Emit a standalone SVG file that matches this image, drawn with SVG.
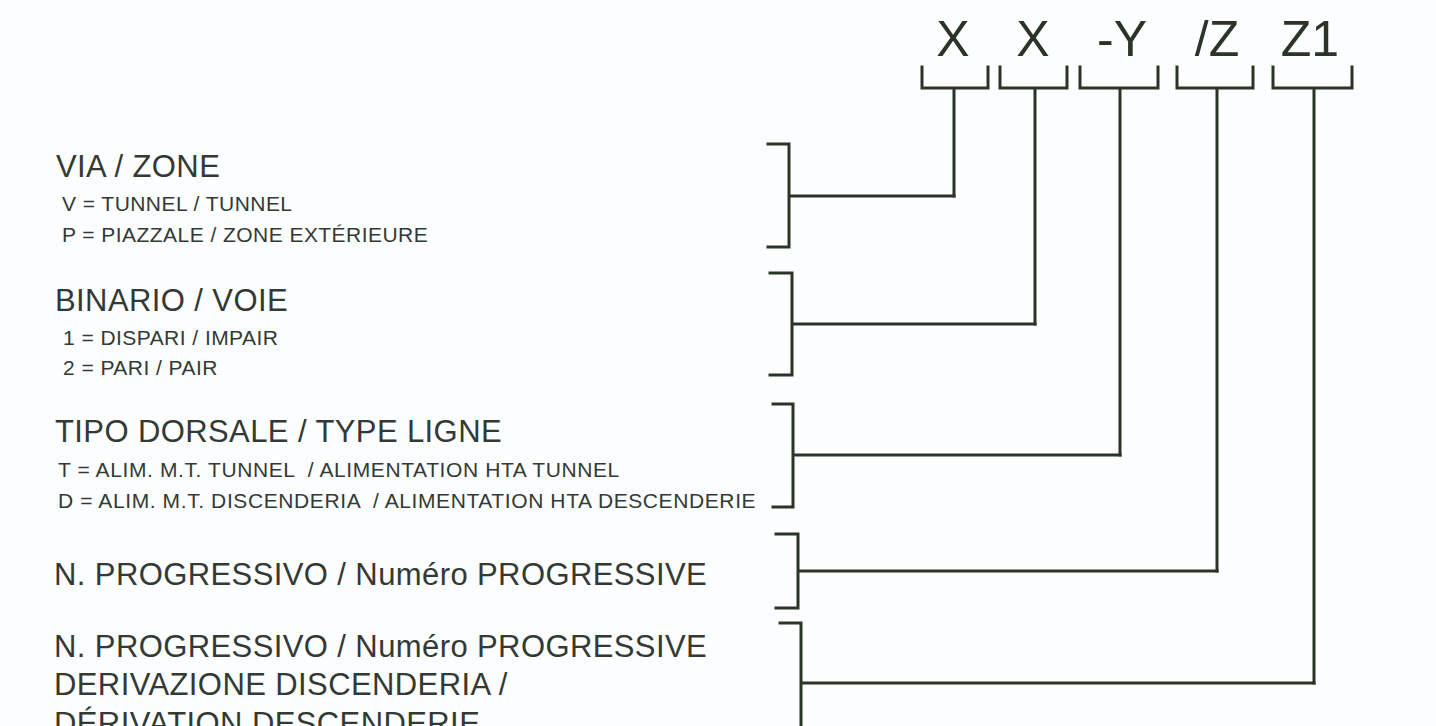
<svg xmlns="http://www.w3.org/2000/svg" width="1436" height="726" viewBox="0 0 1436 726">
  <style>
    .bg { fill: #fcfdff; }
    .big { font-family: "Liberation Sans", Arial, sans-serif; font-size: 31px; fill: #333a33; letter-spacing: 0.4px; }
    .small { font-family: "Liberation Sans", Arial, sans-serif; font-size: 21px; fill: #333a33; letter-spacing: 0.45px; }
    .wide { letter-spacing: 0.6px; }
    .code { font-family: "Liberation Sans", Arial, sans-serif; font-size: 50px; fill: #2a3527; text-anchor: middle; }
    .ln { fill: none; stroke: #2a3527; stroke-width: 3; stroke-linejoin: miter; stroke-linecap: square; }
  </style>
  <rect class="bg" x="0" y="0" width="1436" height="726"/>

  <g id="code">
    <text class="code" x="953" y="56">X</text>
    <text class="code" x="1033" y="56">X</text>
    <text class="code" x="1122" y="56">-Y</text>
    <text class="code" x="1217" y="56">/Z</text>
    <text class="code" x="1310" y="56">Z1</text>
  </g>

  <g id="via-zone">
    <text class="big" x="56" y="177">VIA / ZONE</text>
    <text class="small" x="62" y="211">V = TUNNEL / TUNNEL</text>
    <text class="small" x="62" y="242">P = PIAZZALE / ZONE EXTÉRIEURE</text>
  </g>

  <g id="binario-voie">
    <text class="big" x="55" y="311">BINARIO / VOIE</text>
    <text class="small" x="63" y="345">1 = DISPARI / IMPAIR</text>
    <text class="small" x="63" y="375">2 = PARI / PAIR</text>
  </g>

  <g id="tipo-dorsale">
    <text class="big" x="55" y="442">TIPO DORSALE / TYPE LIGNE</text>
    <text class="small wide" x="58" y="477" xml:space="preserve">T = ALIM. M.T. TUNNEL  / ALIMENTATION HTA TUNNEL</text>
    <text class="small wide" x="58" y="508" xml:space="preserve">D = ALIM. M.T. DISCENDERIA  / ALIMENTATION HTA DESCENDERIE</text>
  </g>

  <g id="n-progressivo">
    <text class="big" x="54" y="585">N. PROGRESSIVO / Numéro PROGRESSIVE</text>
  </g>

  <g id="derivazione">
    <text class="big" x="54" y="657">N. PROGRESSIVO / Numéro PROGRESSIVE</text>
    <text class="big" x="54" y="695">DERIVAZIONE DISCENDERIA /</text>
    <text class="big" x="54" y="734">DÉRIVATION DESCENDERIE</text>
  </g>

  <g id="connectors">
    <path class="ln" d="M922,67 V88 H988 V67 M954,88 V196"/>
    <path class="ln" d="M1000,67 V88 H1067 V67 M1035,88 V324"/>
    <path class="ln" d="M1080,67 V88 H1158 V67 M1120,88 V455"/>
    <path class="ln" d="M1177,67 V88 H1253 V67 M1217,88 V571"/>
    <path class="ln" d="M1273,67 V88 H1352 V67 M1314,88 V683"/>
    <path class="ln" d="M768,144 H789 V247 H768 M789,196 H954"/>
    <path class="ln" d="M770,273 H792 V375 H770 M792,324 H1035"/>
    <path class="ln" d="M773,404 H793 V507 H773 M793,455 H1120"/>
    <path class="ln" d="M776,534 H798 V608 H776 M798,571 H1217"/>
    <path class="ln" d="M780,623 H801 V730 M801,683 H1314"/>
  </g>
</svg>
